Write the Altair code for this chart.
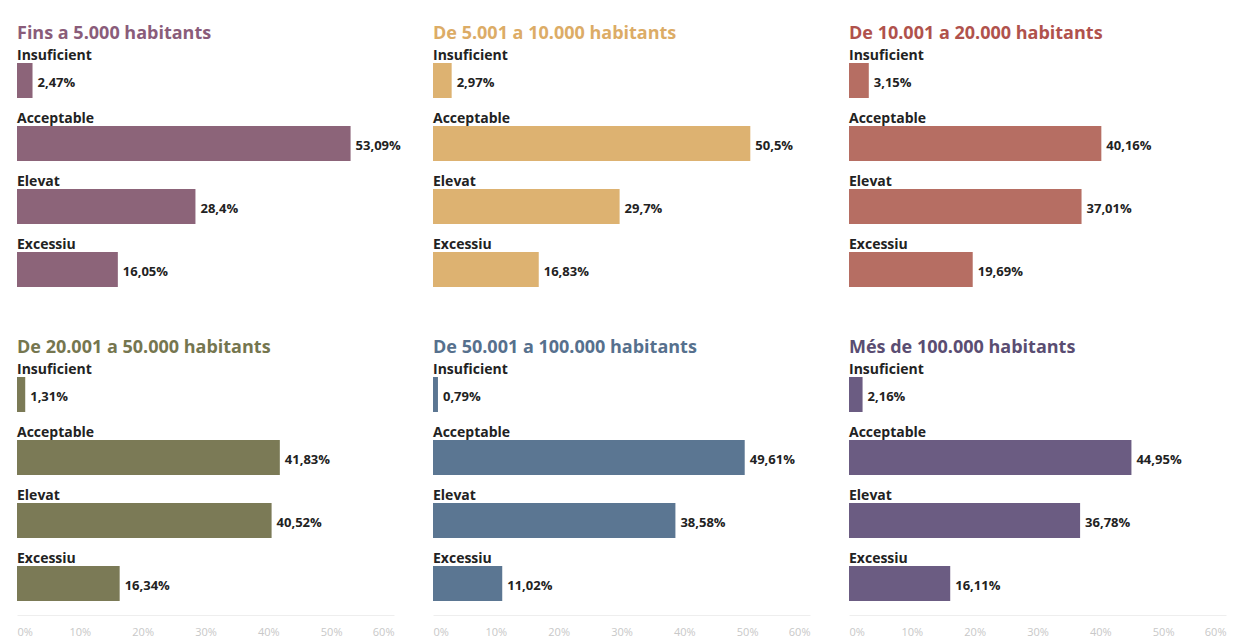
import altair as alt
import pandas as pd

categories = ["Insuficient", "Acceptable", "Elevat", "Excessiu"]
titles = [
    "Fins a 5.000 habitants",
    "De 5.001 a 10.000 habitants",
    "De 10.001 a 20.000 habitants",
    "De 20.001 a 50.000 habitants",
    "De 50.001 a 100.000 habitants",
    "Més de 100.000 habitants",
]
values = [
    [2.47, 53.09, 28.4, 16.05],
    [2.97, 50.5, 29.7, 16.83],
    [3.15, 40.16, 37.01, 19.69],
    [1.31, 41.83, 40.52, 16.34],
    [0.79, 49.61, 38.58, 11.02],
    [2.16, 44.95, 36.78, 16.11],
]
bar_colors = ["#8c6479", "#ddb271", "#b66e63", "#7b7a56", "#5b7692", "#6b5c82"]
title_colors = ["#8a5c7a", "#dcac66", "#b0524c", "#75764f", "#56708d", "#5a4d72"]
tick_values = [0, 10, 20, 30, 40, 50, 60]

FONT = "Open Sans"


def panel(i, show_axis):
    df = pd.DataFrame({
        "cat": categories,
        "val": values[i],
        "lab": [str(v).replace(".", ",") + "%" for v in values[i]],
    })
    if show_axis:
        xaxis = alt.Axis(values=tick_values, labelExpr="datum.value + '%'", ticks=False,
                         grid=False, domainColor="#eeeeee", labelColor="#c8c8c8",
                         labelFontSize=11, labelPadding=11, title=None, labelFont=FONT)
    else:
        xaxis = None
    x = alt.X("val:Q", scale=alt.Scale(domain=[0, 60]), axis=xaxis)
    y = alt.Y("cat:N", sort=categories, axis=None,
              scale=alt.Scale(paddingInner=0, paddingOuter=0))
    base = alt.Chart(df)
    bars = base.mark_bar(size=35, color=bar_colors[i]).encode(x=x, y=y)
    vals = base.mark_text(align="left", baseline="middle", dx=5, dy=2, font=FONT,
                          fontWeight="bold", fontSize=13, color="#222222").encode(
        x=alt.X("val:Q"), y=alt.Y("cat:N", sort=categories), text="lab:N")
    cats = base.mark_text(align="left", baseline="middle", dy=-25, font=FONT,
                          fontWeight="bold", fontSize=14, color="#222222").encode(
        x=alt.value(0), y=alt.Y("cat:N", sort=categories), text="cat:N")
    return alt.layer(bars, vals, cats).properties(
        width=377, height=252,
        title=alt.TitleParams(titles[i], anchor="start", color=title_colors[i], font=FONT,
                              fontSize=18, fontWeight="bold", offset=6),
    )


row1 = alt.hconcat(*[panel(i, False) for i in range(3)], spacing=39, bounds="flush")
row2 = alt.hconcat(*[panel(i, True) for i in range(3, 6)], spacing=39, bounds="flush")
chart = alt.vconcat(row1, row2, spacing=37).configure_view(stroke=None).properties(
    padding={"left": 9, "top": 16, "right": 5, "bottom": 5}
)

chart.save("out.html", embed_options={"renderer": "svg", "actions": False})
